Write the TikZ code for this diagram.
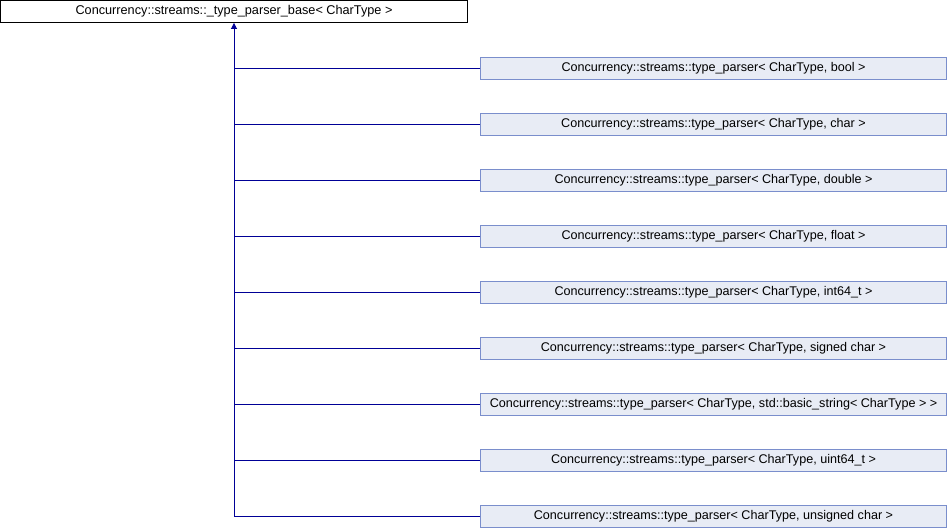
\documentclass[tikz,border=0pt]{standalone}
\usepackage{fontspec}
\setmainfont{Liberation Sans}
\usetikzlibrary{arrows.meta}
\definecolor{edgeblue}{RGB}{0,0,150}
\definecolor{derivfill}{RGB}{232,236,245}
\definecolor{derivdraw}{RGB}{122,142,204}
\tikzset{
        base/.style={draw=black, fill=white, line width=0.9pt, minimum width=467pt, minimum height=22pt, inner sep=0pt, font=\fontsize{12.7}{14}\selectfont},
        derived/.style={draw=derivdraw, fill=derivfill, line width=0.9pt, minimum width=466pt, minimum height=22pt, inner sep=0pt, font=\fontsize{12.6}{14}\selectfont},
        inherit/.style={draw=edgeblue, line width=0.9pt}
          }

\begin{document}
\begin{tikzpicture}[x=1pt, y=-1pt]
        \useasboundingbox (0,0) rectangle (948,528);
        \node[base] (parserbase) at (234,11.5) {Concurrency::streams::\_type\_parser\_base< CharType >};
        \foreach \i/\name/\targ in {0/pbool/bool, 1/pchar/char, 2/pdouble/double, 3/pfloat/float,
            4/pint/int64\_t, 5/psigned/signed char, 6/pstring/std::basic\_string< CharType >,
            7/puint/uint64\_t, 8/punsigned/unsigned char}{
          \node[derived] (\name) at (713.5,68+56*\i) {Concurrency::streams::type\_parser< CharType, \targ\ >};
          \draw[inherit] (\name.west) -- (\name.west -| parserbase.south);
        }
        \coordinate (trunk) at (punsigned.west -| parserbase.south);
        \draw[inherit, -{Triangle[width=6pt, length=6pt]}] (trunk) -- (parserbase.south);
      \end{tikzpicture}
\end{document}
